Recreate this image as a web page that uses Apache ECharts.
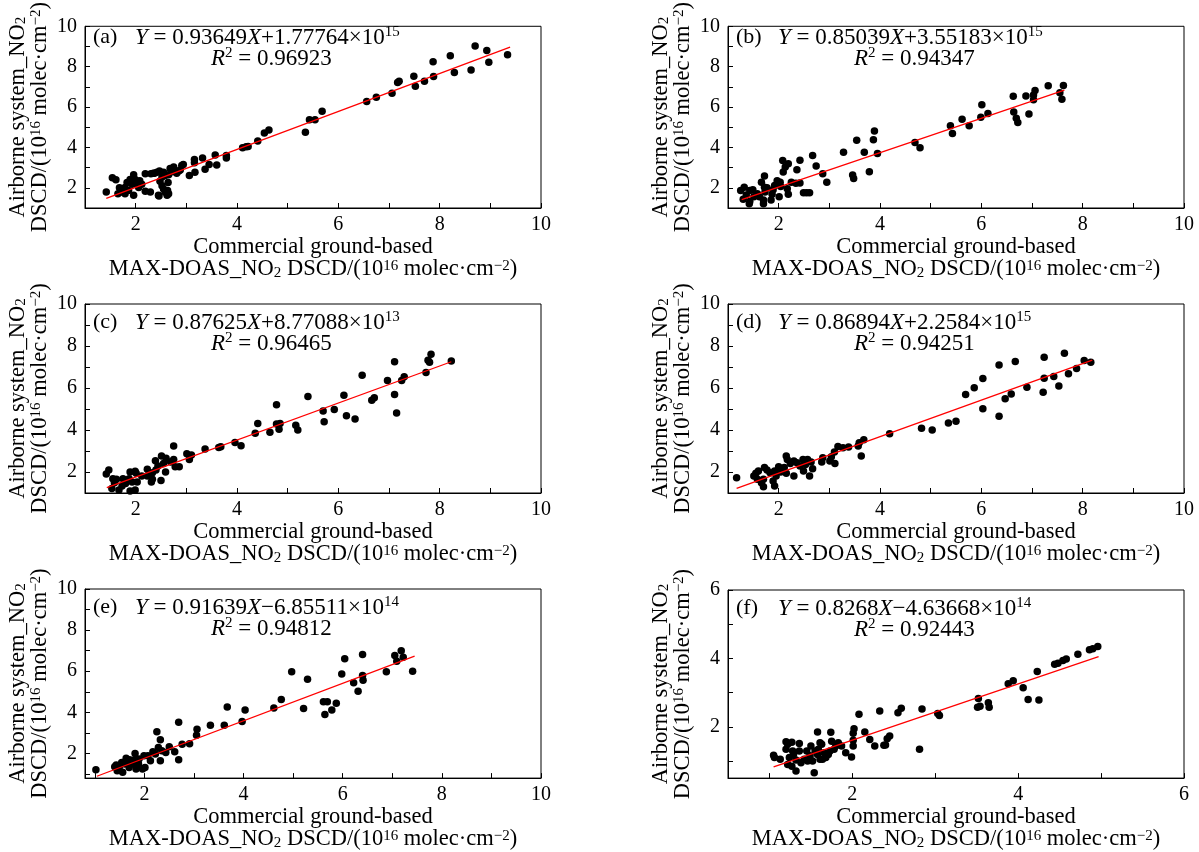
<!DOCTYPE html>
<html><head><meta charset="utf-8">
<script src="https://cdn.jsdelivr.net/npm/echarts@6/dist/echarts.min.js"></script>
<style>html,body{margin:0;padding:0;background:#fff}#c{width:1199px;height:852px}</style>
</head><body><div id="c"></div><script>
// ---------- data (units: 10^16 molec/cm^2) ----------
const dataA = [[1.42,1.79],[1.54,2.50],[1.61,2.40],[1.65,1.71],[1.68,2.00],[1.73,1.79],[1.79,2.02],[1.79,1.71],[1.83,2.26],[1.86,1.87],[1.89,2.41],[1.93,2.18],[1.96,2.65],[1.96,1.63],[1.99,2.41],[2.02,2.26],[2.06,2.02],[2.12,2.18],[2.08,2.35],[2.19,2.70],[2.19,1.83],[2.29,1.79],[2.30,2.70],[2.35,2.72],[2.42,2.77],[2.45,1.63],[2.48,2.33],[2.52,2.10],[2.55,1.94],[2.58,1.79],[2.62,1.63],[2.64,2.26],[2.65,2.65],[2.68,2.96],[2.71,2.80],[2.75,3.03],[2.81,2.72],[2.88,2.88],[2.91,3.11],[2.55,2.77],[2.58,2.61],[2.52,2.53],[2.65,1.71],[2.63,1.87],[2.46,1.59],[2.47,2.83],[2.37,2.72],[2.85,2.83],[2.94,3.15],[3.06,2.61],[3.17,2.77],[3.16,3.40],[3.16,3.24],[3.32,3.48],[3.37,2.92],[3.45,3.16],[3.57,3.63],[3.60,3.13],[3.79,3.48],[3.79,3.60],[4.11,3.98],[4.18,4.03],[4.22,4.05],[4.41,4.32],[4.54,4.71],[4.63,4.86],[5.35,4.75],[5.43,5.37],[5.54,5.37],[5.68,5.79],[6.56,6.28],[6.75,6.49],[7.06,6.68],[7.17,7.22],[7.20,7.28],[7.49,7.52],[7.52,7.03],[7.70,7.28],[7.88,7.51],[7.87,8.25],[8.21,8.54],[8.29,7.71],[8.62,7.84],[8.70,9.02],[8.93,8.80],[8.97,8.22],[9.34,8.59]];
const dataB = [[7.62,7.07],[7.55,6.71],[7.59,6.39],[7.32,7.06],[7.06,6.82],[7.03,6.60],[7.03,6.36],[6.88,6.55],[6.94,5.65],[6.63,6.53],[6.64,5.76],[6.69,5.44],[6.72,5.23],[6.01,6.12],[5.99,5.49],[6.13,5.68],[5.62,5.39],[5.76,5.07],[5.39,5.07],[5.43,4.69],[4.69,4.25],[4.79,3.98],[3.95,3.70],[3.89,4.82],[3.87,4.38],[3.69,3.76],[3.54,4.36],[3.28,3.76],[3.79,2.79],[3.46,2.63],[3.48,2.46],[2.95,2.27],[2.87,2.70],[2.74,3.08],[2.67,3.60],[2.61,1.75],[2.49,1.75],[2.55,1.75],[2.42,3.36],[2.42,2.24],[2.34,2.22],[2.36,2.90],[2.25,2.27],[2.19,3.19],[2.13,3.03],[2.08,3.35],[2.09,2.78],[2.19,1.68],[2.17,1.95],[2.03,2.27],[1.97,2.35],[2.01,1.56],[2.04,2.06],[1.92,2.11],[1.89,1.90],[1.85,1.40],[1.87,1.68],[1.77,2.00],[1.72,2.03],[1.72,2.59],[1.66,2.27],[1.73,1.79],[1.70,1.40],[1.70,1.21],[1.58,1.71],[1.51,1.56],[1.43,1.87],[1.43,1.32],[1.42,1.21],[1.36,1.64],[1.32,2.03],[1.25,1.87],[1.30,1.43],[1.49,1.90],[1.62,1.56]];
const dataC = [[7.83,7.61],[7.77,7.32],[7.80,7.23],[8.23,7.29],[7.73,6.74],[7.11,7.25],[7.30,6.53],[7.25,6.36],[6.97,6.36],[6.47,6.61],[7.11,5.69],[7.15,4.81],[6.71,5.53],[6.66,5.42],[6.11,5.66],[6.16,4.68],[6.33,4.52],[5.92,4.98],[5.70,4.90],[5.72,4.39],[5.40,5.60],[4.78,5.20],[4.78,4.28],[4.85,4.31],[4.83,4.03],[5.16,4.23],[5.20,4.00],[4.65,3.89],[4.41,4.31],[4.36,3.85],[4.08,3.25],[3.96,3.41],[3.68,3.20],[3.64,3.17],[3.37,3.09],[3.10,2.81],[3.06,2.59],[3.01,2.87],[2.86,2.25],[2.78,2.25],[2.75,3.24],[2.75,2.60],[2.69,2.48],[2.60,2.65],[2.59,2.00],[2.55,2.41],[2.51,2.76],[2.50,1.60],[2.44,2.29],[2.39,2.54],[2.40,2.10],[2.33,1.97],[2.31,1.52],[2.23,2.13],[2.23,1.81],[2.12,1.81],[2.01,1.94],[2.03,1.52],[1.99,2.03],[1.89,2.00],[1.87,1.68],[1.93,1.52],[1.99,1.14],[1.89,1.10],[1.80,1.45],[1.73,1.33],[1.67,1.14],[1.62,1.65],[1.58,1.49],[1.55,1.68],[1.53,1.21],[1.47,2.10],[1.42,1.90],[1.75,1.68],[2.33,1.65]];
const dataD = [[7.64,7.66],[7.24,7.47],[6.67,7.26],[6.35,7.09],[8.03,7.31],[8.16,7.23],[7.88,6.93],[7.72,6.68],[7.43,6.55],[7.24,6.47],[7.53,6.10],[7.22,5.80],[6.90,6.04],[6.59,5.71],[6.47,5.49],[6.35,4.66],[6.03,6.45],[6.03,5.01],[5.86,6.01],[5.69,5.69],[5.50,4.42],[5.35,4.33],[5.03,4.00],[4.82,4.08],[4.19,3.82],[3.68,3.54],[3.59,3.39],[3.57,3.24],[3.63,2.76],[3.38,3.19],[3.27,3.16],[3.17,3.22],[3.10,2.95],[3.04,2.73],[3.11,2.40],[3.01,2.52],[2.87,2.68],[2.85,2.48],[2.67,2.16],[2.64,2.48],[2.61,1.81],[2.57,2.60],[2.53,2.36],[2.49,2.05],[2.48,2.60],[2.42,2.29],[2.36,2.44],[2.30,2.52],[2.30,1.81],[2.23,2.40],[2.17,2.60],[2.15,2.76],[2.11,2.21],[2.15,1.94],[2.04,2.00],[2.00,2.25],[1.95,1.81],[1.92,1.33],[1.89,1.57],[1.83,1.97],[1.77,2.10],[1.72,2.21],[1.70,1.65],[1.66,1.49],[1.70,1.30],[1.60,2.05],[1.55,1.94],[1.51,1.81],[1.58,1.65],[1.92,2.05],[1.17,1.73]];
const dataE = [[7.18,7.00],[7.05,6.76],[7.22,6.68],[7.09,6.48],[7.41,6.00],[6.88,5.98],[6.40,6.81],[6.04,6.61],[6.40,5.79],[6.41,5.56],[6.22,5.44],[6.31,5.02],[5.98,5.87],[5.87,4.44],[5.69,4.52],[5.61,4.52],[5.78,4.11],[5.64,3.90],[5.29,5.61],[4.97,5.98],[5.21,4.19],[4.76,4.63],[4.61,4.21],[4.03,4.11],[3.97,3.55],[3.67,4.26],[3.61,3.37],[3.33,3.37],[3.06,3.18],[3.05,2.89],[2.91,2.47],[2.76,2.45],[2.69,3.52],[2.69,1.69],[2.61,2.08],[2.50,2.32],[2.43,2.05],[2.35,2.13],[2.32,2.66],[2.25,3.05],[2.28,2.29],[2.32,1.65],[2.22,1.97],[2.17,2.08],[2.12,1.65],[2.07,1.89],[1.99,1.89],[2.01,1.32],[1.96,1.24],[1.88,1.48],[1.81,2.00],[1.83,1.24],[1.79,1.68],[1.74,1.48],[1.69,1.32],[1.63,1.76],[1.60,1.48],[1.54,1.56],[1.56,1.08],[1.49,1.32],[1.45,1.16],[1.43,1.44],[1.40,1.35],[1.02,1.21],[1.70,1.69],[1.89,1.73]];
const dataF = [[4.96,4.35],[4.90,4.28],[4.86,4.25],[4.72,4.12],[4.58,3.98],[4.54,3.94],[4.48,3.86],[4.44,3.83],[4.23,3.62],[4.06,3.14],[3.94,3.35],[3.88,3.26],[4.12,2.80],[4.25,2.78],[3.64,2.70],[3.65,2.57],[3.54,2.60],[3.52,2.83],[3.51,2.57],[3.05,2.33],[3.03,2.39],[2.84,2.52],[2.59,2.54],[2.55,2.41],[2.33,2.46],[2.08,2.37],[2.81,1.34],[2.45,1.73],[2.42,1.65],[2.40,1.47],[2.38,1.46],[2.27,1.44],[2.21,1.63],[2.15,1.85],[2.02,1.94],[2.01,1.81],[2.01,1.61],[2.01,1.44],[1.99,1.12],[1.92,1.24],[1.87,1.44],[1.83,1.53],[1.80,1.44],[1.75,1.58],[1.74,1.84],[1.78,1.34],[1.73,1.29],[1.71,1.19],[1.68,1.10],[1.66,1.24],[1.63,1.49],[1.61,1.05],[1.59,1.34],[1.58,1.19],[1.61,1.53],[1.58,1.85],[1.55,1.29],[1.52,1.00],[1.49,1.15],[1.50,1.44],[1.54,0.66],[1.45,1.29],[1.46,1.00],[1.38,0.95],[1.36,1.29],[1.32,1.03],[1.29,1.19],[1.27,0.85],[1.36,1.51],[1.28,1.29],[1.24,1.10],[1.22,1.49],[1.20,1.56],[1.27,1.55],[1.20,1.34],[1.22,0.90],[1.32,0.71],[1.13,1.05],[1.06,1.10],[1.05,1.17],[1.42,1.05],[1.64,1.05]];
// regression lines (end points)
const fitA = [[1.42,1.48],[9.39,8.97]];
const fitB = [[1.27,1.42],[7.64,6.84]];
const fitC = [[1.43,1.26],[8.23,7.25]];
const fitD = [[1.17,1.22],[8.19,7.33]];
const fitE = [[1.04,0.89],[7.45,6.73]];
const fitF = [[1.05,0.83],[4.97,4.05]];
// annotations
const panelLetters = ['(a)','(b)','(c)','(d)','(e)','(f)'];
const slopes = ['0.93649','0.85039','0.87625','0.86894','0.91639','0.8268'];
const intercepts = ['+1.77764','+3.55183','+8.77088','+2.2584','−6.85511','−4.63668'];
const interceptExp = ['15','15','13','15','14','14'];
const r2Values = ['0.96923','0.94347','0.96465','0.94251','0.94812','0.92443'];
// axes
const axisMin = [1,1,1,1,0.8,0.5];
const axisMax = [10,10,10,10,10,6];
const tickLabels10 = [2,4,6,8,10];
const tickMarks10 = [1,2,3,4,5,6,7,8,9,10];
const tickLabels6 = [2,4,6];
const tickMarks6 = [1,2,3,4,5,6];

const allData = [dataA,dataB,dataC,dataD,dataE,dataF];
const allFits = [fitA,fitB,fitC,fitD,fitE,fitF];

// ---------- layout ----------
const layouts = [
  {left:85, top:19, width:456, height:189},
  {left:728,top:19, width:456, height:189},
  {left:85, top:304,width:456, height:189},
  {left:728,top:304,width:456, height:189},
  {left:85, top:589,width:456, height:190},
  {left:728,top:590,width:456, height:189}
];
const FONT = 'Liberation Serif';
const makeRich = (fs, lh, sfs) => ({
  t:{fontFamily:FONT,fontSize:fs,lineHeight:lh,color:'#000'},
  i:{fontFamily:FONT,fontSize:fs,lineHeight:lh,fontStyle:'italic',color:'#000'},
  sup:{fontFamily:FONT,fontSize:sfs,lineHeight:9,verticalAlign:'top',color:'#000'},
  sub:{fontFamily:FONT,fontSize:sfs,lineHeight:12,verticalAlign:'bottom',color:'#000'}
});
const nameRich = makeRich(22.5, 22, 15);
const annRich = makeRich(23, 25, 15);
const xName = '{t|Commercial ground-based}\n{t|MAX-DOAS_NO}{sub|2}{t| DSCD/(10}{sup|16}{t| molec·cm}{sup|−2}{t|)}';
const yName = '{t|Airborne system_NO}{sub|2}\n{t|DSCD/(10}{sup|16}{t| molec·cm}{sup|−2}{t|)}';

const grids = [], xAxes = [], yAxes = [], series = [], graphics = [];
layouts.forEach((L,k)=>{
  grids.push({left:L.left, top:L.top, width:L.width, height:L.height, show:true, borderColor:'#000', borderWidth:1, containLabel:false});
  const small = axisMax[k] === 6;
  const ax = {
    gridIndex:k, type:'value', min:axisMin[k], max:axisMax[k],
    axisLine:{show:true, onZero:false, lineStyle:{color:'#000', width:1}},
    axisTick:{show:true, inside:true, length:5, customValues: small?tickMarks6:tickMarks10, lineStyle:{color:'#000', width:1}},
    axisLabel:{customValues: small?tickLabels6:tickLabels10, color:'#000', fontFamily:FONT, fontSize:20},
    splitLine:{show:false}, minorTick:{show:false},
    nameLocation:'middle', nameTextStyle:{rich:nameRich, color:'#000', fontFamily:FONT, fontSize:22.5, align:'center'}
  };
  xAxes.push(Object.assign({}, ax, {name:xName, nameGap:27, axisLabel:Object.assign({}, ax.axisLabel, {margin:7})}));
  yAxes.push(Object.assign({}, ax, {name:yName, nameGap:34, axisLabel:Object.assign({}, ax.axisLabel, {margin:8})}));
  series.push({type:'scatter', xAxisIndex:k, yAxisIndex:k, data:allData[k], symbol:'circle', symbolSize:7.5, itemStyle:{color:'#000', opacity:1}, z:2});
  series.push({type:'line', xAxisIndex:k, yAxisIndex:k, data:allFits[k], showSymbol:false, symbol:'none', lineStyle:{color:'#ff0000', width:1.3}, z:3});
  graphics.push({type:'text', left:L.left+8, top:L.top+7, style:{text:panelLetters[k], fontFamily:FONT, fontSize:22, fill:'#000'}});
  graphics.push({type:'text', left:L.left+50, top:L.top+6, style:{text:'{i|Y}{t| = '+slopes[k]+'}{i|X}{t|'+intercepts[k]+'×10}{sup|'+interceptExp[k]+'}', rich:annRich}});
  graphics.push({type:'text', left:L.left+126, top:L.top+27, style:{text:'{i|R}{sup|2}{t| = '+r2Values[k]+'}', rich:annRich}});
});

const chart = echarts.init(document.getElementById('c'), null, {renderer:'canvas'});
chart.setOption({
  animation:false, backgroundColor:'#fff',
  grid:grids, xAxis:xAxes, yAxis:yAxes, series:series, graphic:graphics
});
</script></body></html>
